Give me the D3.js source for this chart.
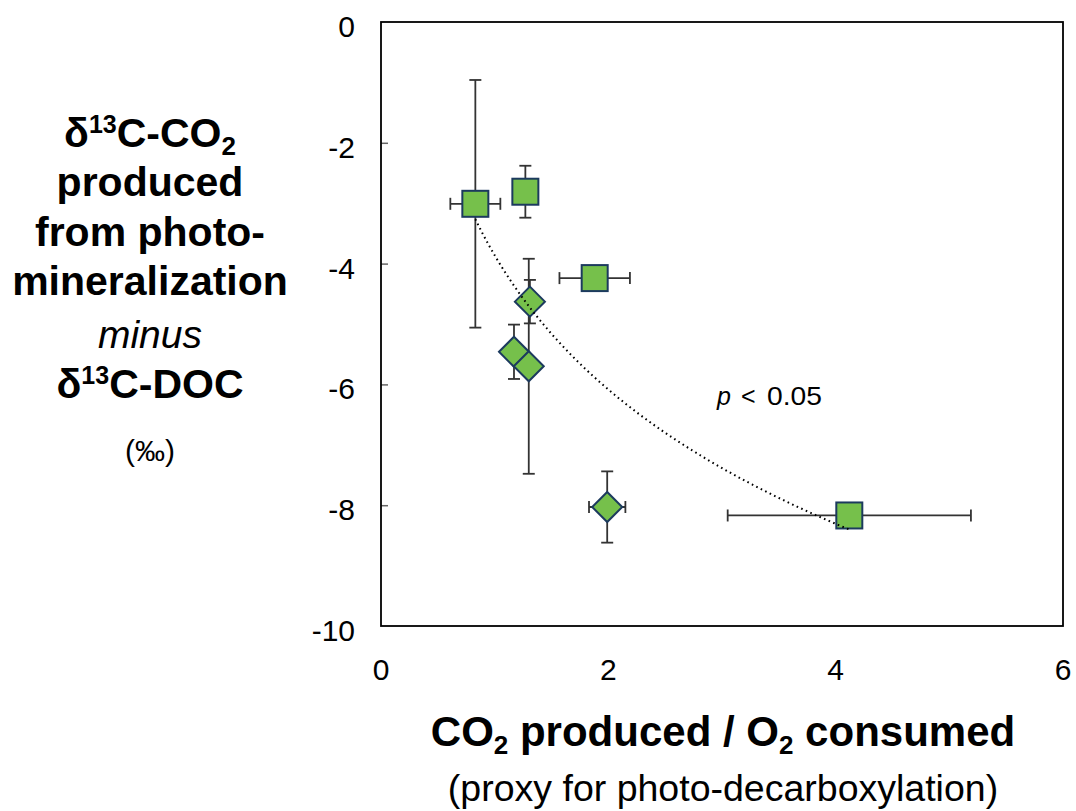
<!DOCTYPE html>
<html>
<head>
<meta charset="utf-8">
<script src="https://cdn.jsdelivr.net/npm/d3@7"></script>
<style>
  body { margin: 0; background: #fff; }
  text { font-family: "Liberation Sans", Arial, Helvetica, sans-serif; fill: #000; }
</style>
</head>
<body>
<div id="chart"></div>
<script>
// square markers
const squareX = [0.83, 1.27, 1.88, 4.12];
const squareY = [-3.01, -2.81, -4.24, -8.17];
const squareXErr = [0.22, 0, 0.31, 1.07];
const squareYErr = [2.05, 0.43, 0, 0];

// diamond markers
const diamondX = [1.31, 1.17, 1.30, 1.99];
const diamondY = [-4.63, -5.46, -5.70, -8.03];
const diamondXErr = [0, 0, 0, 0.16];
const diamondYErr = [0.36, 0.45, 1.78, 0.59];

const xTicks = [0, 2, 4, 6];
const yTicks = [0, -2, -4, -6, -8, -10];
const yTitleLines = ["produced", "from photo-", "mineralization"];

const width = 1076, height = 811;
const plot = { left: 381, right: 1063, top: 22, bottom: 626 };

const svg = d3.select("#chart").append("svg")
  .attr("width", width)
  .attr("height", height);

const x = d3.scaleLinear().domain([0, 6]).range([plot.left, plot.right]);
const y = d3.scaleLinear().domain([-10, 0]).range([plot.bottom, plot.top]);

const toPoints = (xs, ys, xe, ye) => xs.map((v, i) => ({ x: v, y: ys[i], xe: xe[i], ye: ye[i] }));
const squares = toPoints(squareX, squareY, squareXErr, squareYErr);
const diamonds = toPoints(diamondX, diamondY, diamondXErr, diamondYErr);
const all = squares.concat(diamonds);

// axes: left with inward ticks, bottom without ticks
svg.append("g")
  .attr("transform", `translate(${plot.left},0)`)
  .call(d3.axisRight(y).tickValues([-2, -4, -6, -8]).tickSize(7).tickFormat(""))
  .call(g => g.select(".domain").remove())
  .call(g => g.selectAll(".tick line").attr("stroke", "#666").attr("stroke-width", 1.5));

svg.append("rect")
  .attr("x", plot.left).attr("y", plot.top)
  .attr("width", plot.right - plot.left).attr("height", plot.bottom - plot.top)
  .attr("fill", "none").attr("stroke", "#000").attr("stroke-width", 1.8);

svg.append("g").selectAll("text")
  .data(yTicks).enter().append("text")
  .attr("x", 355).attr("y", d => y(d) + 15)
  .attr("text-anchor", "end")
  .attr("font-size", 30)
  .text(d => d);

svg.append("g").selectAll("text")
  .data(xTicks).enter().append("text")
  .attr("x", d => x(d)).attr("y", 680)
  .attr("text-anchor", "middle")
  .attr("font-size", 30)
  .text(d => d);

// error bars
const cap = 6;
const errG = svg.append("g").attr("stroke", "#333").attr("stroke-width", 1.8);
all.filter(d => d.ye > 0).forEach(d => {
  errG.append("line").attr("x1", x(d.x)).attr("x2", x(d.x)).attr("y1", y(d.y + d.ye)).attr("y2", y(d.y - d.ye));
  [d.y + d.ye, d.y - d.ye].forEach(v => errG.append("line")
    .attr("x1", x(d.x) - cap).attr("x2", x(d.x) + cap).attr("y1", y(v)).attr("y2", y(v)));
});
all.filter(d => d.xe > 0).forEach(d => {
  errG.append("line").attr("x1", x(d.x - d.xe)).attr("x2", x(d.x + d.xe)).attr("y1", y(d.y)).attr("y2", y(d.y));
  [d.x - d.xe, d.x + d.xe].forEach(v => errG.append("line")
    .attr("x1", x(v)).attr("x2", x(v)).attr("y1", y(d.y) - cap).attr("y2", y(d.y) + cap));
});

// markers
const fill = "#76c04b", edge = "#1c3a5e";
svg.append("g").selectAll("rect")
  .data(squares).enter().append("rect")
  .attr("x", d => x(d.x) - 13).attr("y", d => y(d.y) - 13)
  .attr("width", 26).attr("height", 26)
  .attr("fill", fill).attr("stroke", edge).attr("stroke-width", 2);

svg.append("g").selectAll("path")
  .data(diamonds).enter().append("path")
  .attr("d", d => `M${x(d.x)},${y(d.y) - 15}L${x(d.x) + 15},${y(d.y)}L${x(d.x)},${y(d.y) + 15}L${x(d.x) - 15},${y(d.y)}Z`)
  .attr("fill", fill).attr("stroke", edge).attr("stroke-width", 2);

// logarithmic trend fitted to all points: y = a + b ln(x)
const lx = all.map(d => Math.log(d.x));
const mx = d3.mean(lx), my = d3.mean(all, d => d.y);
const b = d3.sum(all, (d, i) => (lx[i] - mx) * (d.y - my)) / d3.sum(lx, v => (v - mx) ** 2);
const a = my - b * mx;
const [x0, x1] = d3.extent(all, d => d.x);
const fit = d3.range(0, 101).map(i => x0 + (x1 - x0) * i / 100);
svg.append("path")
  .datum(fit)
  .attr("d", d3.line().x(v => x(v)).y(v => y(a + b * Math.log(v))))
  .attr("fill", "none").attr("stroke", "#000").attr("stroke-width", 2)
  .attr("stroke-dasharray", "1.6 3.4");

// significance label
const pg = svg.append("g").attr("font-size", 25);
pg.append("text").attr("x", 717).attr("y", 405).attr("font-style", "italic").text("p");
pg.append("text").attr("x", 741).attr("y", 405).text("<");
pg.append("text").attr("x", 767).attr("y", 405)
  .attr("textLength", 55).attr("lengthAdjust", "spacingAndGlyphs").text("0.05");

// y title
const cx = 150;
const yt = svg.append("g").attr("text-anchor", "middle").attr("font-weight", "bold").attr("font-size", 41);
yt.append("text").attr("x", cx).attr("y", 147).call(t => {
  t.append("tspan").text("δ");
  t.append("tspan").attr("font-size", 25).attr("dy", -14).text("13");
  t.append("tspan").attr("dy", 14).text("C-CO");
  t.append("tspan").attr("font-size", 26).attr("dy", 8).text("2");
});
yTitleLines.forEach((s, i) => yt.append("text").attr("x", cx).attr("y", 196 + i * 49.5).text(s));
svg.append("text").attr("x", cx).attr("y", 348).attr("text-anchor", "middle")
  .attr("font-size", 39).attr("font-style", "italic").text("minus");
yt.append("text").attr("x", cx).attr("y", 398).call(t => {
  t.append("tspan").text("δ");
  t.append("tspan").attr("font-size", 25).attr("dy", -14).text("13");
  t.append("tspan").attr("dy", 14).text("C-DOC");
});
svg.append("text").attr("x", cx).attr("y", 461).attr("text-anchor", "middle")
  .attr("font-size", 30).text("(‰)");

// x title
svg.append("text").attr("x", 723).attr("y", 746).attr("text-anchor", "middle")
  .attr("font-weight", "bold").attr("font-size", 42)
  .call(t => {
    t.append("tspan").text("CO");
    t.append("tspan").attr("font-size", 26).attr("dy", 8).text("2");
    t.append("tspan").attr("dy", -8).text(" produced / O");
    t.append("tspan").attr("font-size", 26).attr("dy", 8).text("2");
    t.append("tspan").attr("dy", -8).text(" consumed");
  });
svg.append("text").attr("x", 723).attr("y", 801).attr("text-anchor", "middle")
  .attr("font-size", 37.5).text("(proxy for photo-decarboxylation)");
</script>
</body>
</html>
